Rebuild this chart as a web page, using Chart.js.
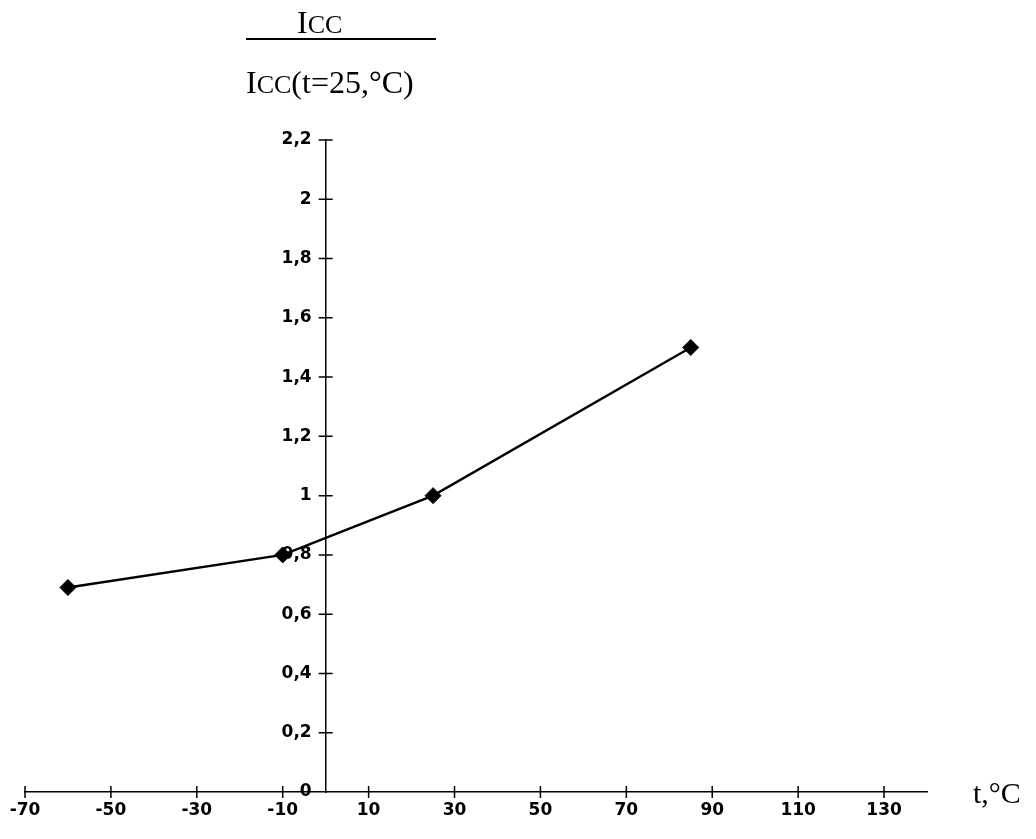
<!DOCTYPE html>
<html>
<head>
<meta charset="utf-8">
<script src="https://cdn.jsdelivr.net/npm/chart.js@4/dist/chart.umd.min.js"></script>
<style>
  html, body { margin: 0; padding: 0; background: #fff; }
  #wrap { width: 1036px; height: 839px; position: relative; }
</style>
</head>
<body>
<div id="wrap"><canvas id="myChart"></canvas></div>
<script>
// temperature, deg C
var temps = [-60, -10, 25, 85];
// Icc / Icc(t=25)
var ratios = [0.69, 0.8, 1.0, 1.5];
var xTicks = [-70, -50, -30, -10, 10, 30, 50, 70, 90, 110, 130];
var yTicks = [0, 0.2, 0.4, 0.6, 0.8, 1, 1.2, 1.4, 1.6, 1.8, 2, 2.2];

var points = temps.map(function(t, i){ return {x: t, y: ratios[i]}; });

// tick marks that cross the axis line on both sides
var crossTicks = {
  id: 'crossTicks',
  afterDraw: function(chart){
    var ctx = chart.ctx, xs = chart.scales.x, ys = chart.scales.y;
    var x0 = xs.getPixelForValue(0), y0 = ys.getPixelForValue(0);
    ctx.save();
    ctx.strokeStyle = '#000';
    ctx.lineWidth = 1.5;
    ctx.beginPath();
    xTicks.forEach(function(v){
      var px = xs.getPixelForValue(v);
      ctx.moveTo(px, y0 - 6); ctx.lineTo(px, y0 + 6);
    });
    yTicks.forEach(function(v){
      if (v === 0) return;
      var py = ys.getPixelForValue(v);
      ctx.moveTo(x0 - 7, py); ctx.lineTo(x0 + 7, py);
    });
    ctx.stroke();
    ctx.restore();
  }
};

// "Icc / Icc(t=25,°C)" fraction and the "t,°C" axis name
var axisNames = {
  id: 'axisNames',
  afterDraw: function(chart){
    var ctx = chart.ctx, xs = chart.scales.x, ys = chart.scales.y;
    ctx.save();
    ctx.fillStyle = '#000';
    ctx.textBaseline = 'alphabetic';
    ctx.textAlign = 'left';
    function icc(x, y){
      ctx.font = '32px "Liberation Serif", "Times New Roman", serif';
      ctx.fillText('I', x, y);
      var w = ctx.measureText('I').width;
      ctx.font = '26px "Liberation Serif", "Times New Roman", serif';
      ctx.fillText('CC', x + w, y);
      return x + w + ctx.measureText('CC').width;
    }
    icc(297, 33);
    ctx.fillRect(246, 38, 190, 2);
    var e = icc(246, 93);
    ctx.font = '32px "Liberation Serif", "Times New Roman", serif';
    ctx.fillText('(t=25,°C)', e, 93);
    ctx.font = '30px "Liberation Serif", "Times New Roman", serif';
    ctx.fillText('t,°C', xs.right + 46, ys.getPixelForValue(0) + 11);
    ctx.restore();
  }
};

// y labels of an axis placed at x=0 get no padding in Chart.js, push them left
function padYLabels(scale){
  var base = Object.getPrototypeOf(scale)._computeLabelItems;
  scale._computeLabelItems = function(area){
    var items = base.call(this, area);
    items.forEach(function(it){ it.options.translation[0] -= 14; });
    return items;
  };
}

var ctx = document.getElementById("myChart");
var myChart = new Chart(ctx, {
  type: 'scatter',
  data: {
    datasets: [{
      data: points,
      showLine: true,
      borderColor: '#000',
      backgroundColor: '#000',
      borderWidth: 2.4,
      pointStyle: 'rectRot',
      pointRadius: 8,
      pointBorderWidth: 1,
      pointHoverRadius: 8,
      clip: false
    }]
  },
  plugins: [crossTicks, axisNames],
  options: {
    responsive: true,
    maintainAspectRatio: false,
    animation: false,
    layout: { padding: { left: 25, right: 109, top: 140, bottom: 47 } },
    plugins: { legend: { display: false }, tooltip: { enabled: false } },
    scales: {
      x: {
        type: 'linear',
        position: { y: 0 },
        min: -70,
        max: 140,
        afterBuildTicks: function(scale){
          scale.ticks = xTicks.map(function(v){ return {value: v}; });
        },
        grid: { display: false, drawTicks: false },
        border: { display: true, color: '#000', width: 1.5 },
        ticks: {
          autoSkip: false,
          maxRotation: 0,
          padding: 8,
          color: '#000',
          font: { family: '"DejaVu Sans", sans-serif', size: 17, weight: 'bold' }
        }
      },
      y: {
        type: 'linear',
        position: { x: 0 },
        min: 0,
        max: 2.2,
        afterBuildTicks: function(scale){
          scale.ticks = yTicks.map(function(v){ return {value: v}; });
        },
        afterUpdate: padYLabels,
        grid: { display: false, drawTicks: false },
        border: { display: true, color: '#000', width: 1.5 },
        ticks: {
          color: '#000',
          font: { family: '"DejaVu Sans", sans-serif', size: 17, weight: 'bold' },
          callback: function(v){ return String(Math.round(v * 10) / 10).replace('.', ','); }
        }
      }
    }
  }
});
</script>
</body>
</html>
